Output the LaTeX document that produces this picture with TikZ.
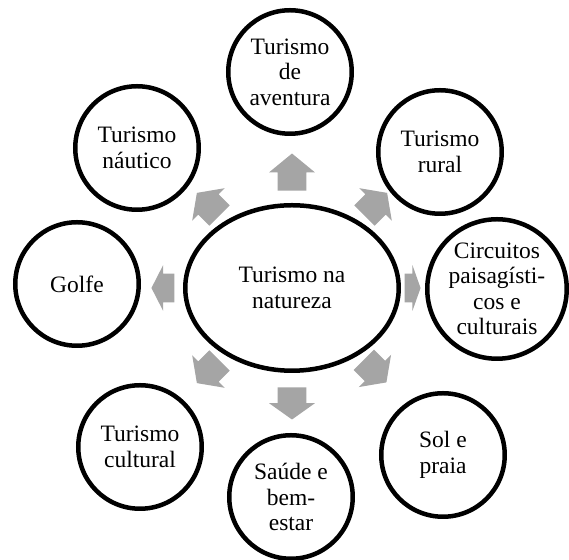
\documentclass[tikz,border=0pt]{standalone}
\usepackage{fontspec}
\setmainfont{Liberation Serif}
\usetikzlibrary{shapes.arrows,shapes.geometric}
\definecolor{arrowgray}{RGB}{165,165,165}

\tikzset{
    bubble/.style={circle, draw, line width=2.25pt, minimum size=61.75pt,
        inner sep=0pt, align=center, font=\fontsize{11.75}{12.75}\selectfont},
    blockarrow/.style={single arrow, fill=arrowgray, draw=none,
        inner xsep=0pt, inner ysep=7pt, single arrow head extend=4.25pt,
        single arrow head indent=0pt, anchor=tip}
}

\begin{document}
\begin{tikzpicture}[x=0.5pt,y=0.5pt]
    %% Background
    \useasboundingbox (-292,-272) rectangle (277,288);
    %% Centre
    \node[bubble, ellipse, minimum width=106.75pt, minimum height=82.75pt]
        (natureza) at (0,0) {Turismo na\\natureza};
    %% Arrows (angle/tip radius/length)
    \foreach \ang/\rad/\len in {90/135/37, 270/132/32, 0/129/16, 180/141/23,
        45/135/32, 135/135/32, 225/135/32, 315/134/32}
    {
        \pgfmathsetmacro\tipang{2*atan(45/\len)}
        \node[blockarrow, minimum height=\len*0.5pt,
            single arrow tip angle=\tipang, rotate=\ang]
            (arr\ang) at (\ang:\rad) {};
    }
    %% Outer bubbles
    \node[bubble] (aventura) at (-2,216) {Turismo\\de\\aventura};
    \node[bubble] (rural) at (148,136) {Turismo\\rural};
    \node[bubble, minimum size=69.75pt] (circuitos) at (205,-1)
        {Circuitos\\paisagísti-\\cos e\\culturais};
    \node[bubble] (sol) at (151,-167) {Sol e\\praia};
    \node[bubble] (saude) at (-1,-209) {Saúde e\\bem-\\estar};
    \node[bubble] (cultural) at (-152,-159) {Turismo\\cultural};
    \node[bubble] (golfe) at (-215,4) {Golfe};
    \node[bubble] (nautico) at (-155,140) {Turismo\\náutico};
\end{tikzpicture}
\end{document}
